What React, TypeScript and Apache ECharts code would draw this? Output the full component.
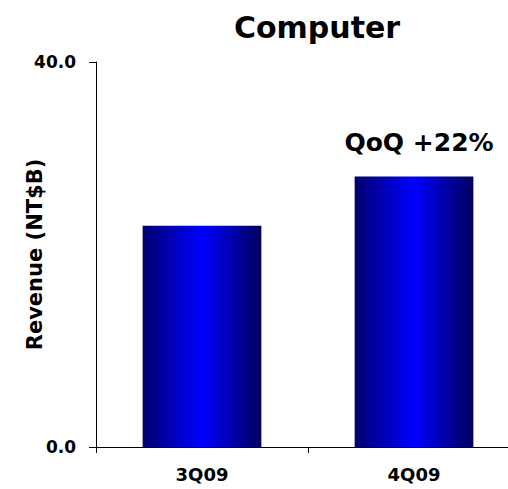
import React, { useEffect, useRef } from "react";
import * as echarts from "echarts";

const categories = ["3Q09", "4Q09"];
const revenue = [23.0, 28.1];
const yTicks = [0, 40];
const titleText = "Computer";
const yAxisName = "Revenue (NT$B)";
const annotation = "QoQ +22%";

const FONT = "DejaVu Sans";

export default function App() {
  const ref = useRef<HTMLDivElement>(null);
  useEffect(() => {
    if (!ref.current) return;
    const chart = echarts.init(ref.current, undefined, { renderer: "svg" });
    const barColor = new echarts.graphic.LinearGradient(0, 0, 1, 0, [
      { offset: 0, color: "#00006e" },
      { offset: 0.5, color: "#0000ff" },
      { offset: 1, color: "#00005c" },
    ]);
    chart.setOption({
      animation: false,
      backgroundColor: "#ffffff",
      title: {
        text: titleText,
        left: 312,
        top: 7,
        textAlign: "center",
        textStyle: { fontFamily: FONT, fontWeight: "bold", fontSize: 30, color: "#000" },
      },
      grid: {
        left: 96,
        width: 424,
        top: 62,
        bottom: 42,
        containLabel: false,
        outerBoundsMode: "none",
      },
      xAxis: {
        type: "category",
        data: categories,
        axisLine: { lineStyle: { color: "#000", width: 1 } },
        axisTick: { show: true, length: 6, lineStyle: { color: "#000" } },
        axisLabel: { fontFamily: FONT, fontWeight: "bold", fontSize: 18, color: "#000", margin: 18 },
      },
      yAxis: {
        type: "value",
        min: yTicks[0],
        max: yTicks[1],
        interval: yTicks[1] - yTicks[0],
        name: yAxisName,
        nameLocation: "middle",
        nameRotate: 90,
        nameGap: 51,
        nameMoveOverlap: false,
        nameTextStyle: { fontFamily: FONT, fontWeight: "bold", fontSize: 21, color: "#000" },
        axisLine: { show: true, lineStyle: { color: "#000", width: 1 } },
        axisTick: { show: true, length: 7, lineStyle: { color: "#000" } },
        splitLine: { show: false },
        axisLabel: {
          fontFamily: FONT,
          fontWeight: "bold",
          fontSize: 17,
          color: "#000",
          margin: 20,
          formatter: (v: number) => v.toFixed(1),
        },
      },
      series: [
        {
          type: "bar",
          barWidth: "56%",
          data: revenue.map((v, i) =>
            i === revenue.length - 1
              ? {
                  value: v,
                  label: {
                    show: true,
                    position: "top",
                    distance: 22,
                    offset: [5, 0],
                    formatter: annotation,
                    fontFamily: FONT,
                    fontWeight: "bold",
                    fontSize: 25,
                    color: "#000",
                  },
                }
              : v
          ),
          itemStyle: { color: barColor },
        },
      ],
    });
    return () => chart.dispose();
  }, []);
  return (
    <div
      ref={ref}
      style={{ position: "absolute", left: 0, top: 0, width: 508, height: 489 }}
    />
  );
}
